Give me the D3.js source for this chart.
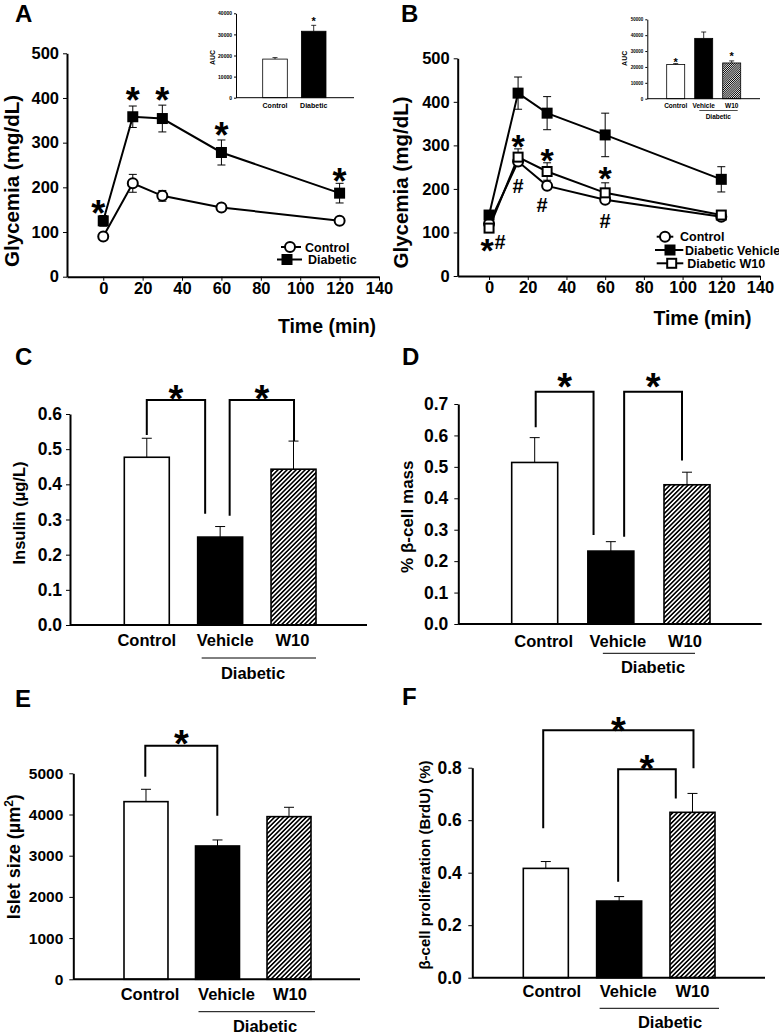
<!DOCTYPE html>
<html><head><meta charset="utf-8">
<script src="https://cdn.jsdelivr.net/npm/d3@7"></script>
<style>
body{margin:0;background:#fff}
svg{display:block}
text{font-family:"Liberation Sans",Arial,sans-serif;font-weight:bold;fill:#000}
</style>
</head><body>
<svg id="fig" width="779" height="1033"></svg>
<script>
// ---------------- DATA ----------------
const times = [0, 15, 30, 60, 120];
const timeTicks = [0, 20, 40, 60, 80, 100, 120, 140];
const glyTicks = [0, 100, 200, 300, 400, 500];

// Panel A (OGTT)
const aControl = [90, 209, 181, 155, 125];
const aControlErr = [5, 20, 12, 5, 6];
const aDiabetic = [125, 358, 354, 278, 187];
const aDiabeticErr = [12, 24, 30, 28, 22];
const aStarY = [160, 414, 414, 335, 232];
// Inset A
const aucACats = ["Control", "Diabetic"];
const aucA = [18300, 31500];
const aucAErr = [700, 2800];
const aucATicks = [0, 10000, 20000, 30000, 40000];

// Panel B
const bControl = [120, 263, 207, 175, 136];
const bControlErr = [5, 10, 8, 8, 5];
const bVehicle = [140, 420, 374, 324, 222];
const bVehicleErr = [10, 37, 38, 50, 29];
const bW10 = [110, 273, 240, 191, 140];
const bW10Err = [8, 19, 20, 23, 6];
// Inset B
const aucBCats = ["Control", "Vehicle", "W10"];
const aucB = [21500, 38000, 22500];
const aucBErr = [600, 4000, 1300];
const aucBTicks = [0, 10000, 20000, 30000, 40000, 50000];

// Bar panels
const barCats = ["Control", "Vehicle", "W10"];
const insulin = [0.477, 0.250, 0.443];
const insulinErr = [0.054, 0.030, 0.080];
const insulinTicks = [0, 0.1, 0.2, 0.3, 0.4, 0.5, 0.6];
const betaMass = [0.514, 0.232, 0.443];
const betaMassErr = [0.079, 0.030, 0.040];
const betaMassTicks = [0, 0.1, 0.2, 0.3, 0.4, 0.5, 0.6, 0.7];
const isletSize = [4312, 3236, 3948];
const isletSizeErr = [300, 146, 227];
const isletTicks = [0, 1000, 2000, 3000, 4000, 5000];
const prolif = [0.4165, 0.292, 0.630];
const prolifErr = [0.026, 0.017, 0.072];
const prolifTicks = [0, 0.2, 0.4, 0.6, 0.8];

// ---------------- DRAWING ----------------
const svg = d3.select("#fig");
svg.append("rect").attr("width", 779).attr("height", 1033).attr("fill", "#fff");
const defs = svg.append("defs");
function hatch(id, w, b) {
  const p = defs.append("pattern").attr("id", id).attr("patternUnits", "userSpaceOnUse")
    .attr("width", w).attr("height", w).attr("patternTransform", "rotate(45)");
  p.append("rect").attr("width", w).attr("height", w).attr("fill", "#fff");
  p.append("rect").attr("width", b).attr("height", w).attr("fill", "#000");
}
hatch("hatch", 3.2, 1.6);
hatch("hatchFine", 1.5, 0.8);
const barFills = ["#fff", "#000", "url(#hatch)"];

function txt(g, x, y, s, fs, anchor) {
  return g.append("text").attr("x", x).attr("y", y).attr("text-anchor", anchor || "middle")
    .style("font-size", fs + "px").text(s);
}
function star(g, x, yc, fs) { // yc = visual centre of asterisk
  return txt(g, x, yc + 0.58 * fs, "*", fs);
}
function hash(g, x, yc) {
  return txt(g, x, yc + 7, "#", 20);
}
function vlabel(g, x, yc, s, fs) {
  return g.append("text").attr("transform", `translate(${x},${yc}) rotate(-90)`)
    .attr("text-anchor", "middle").style("font-size", fs + "px").text(s);
}
function styleAxis(a, fs, domW) {
  a.select(".domain").attr("stroke", "#000").attr("stroke-width", domW);
  a.selectAll(".tick line").attr("stroke", "#000").attr("stroke-width", 1);
  a.selectAll(".tick text").attr("fill", "#000").style("font-size", fs + "px");
}

// panel letters
[["A", 15, 22], ["B", 401, 22], ["C", 15, 365], ["D", 402, 365], ["E", 15, 707], ["F", 402, 705]]
  .forEach(([l, x, y]) => txt(svg, x, y, l, 24, "start"));

// ---------- line panels ----------
function linePanel(o) {
  const g = svg.append("g");
  const x = d3.scaleLinear().domain([o.xMin, 140]).range([o.ax, o.axEnd]);
  const y = d3.scaleLinear().domain([0, 500]).range([o.y0, o.y500]);
  g.append("g").attr("transform", `translate(${o.ax},0)`)
    .call(d3.axisLeft(y).tickValues(glyTicks).tickSize(4).tickSizeOuter(0).tickPadding(4))
    .call(a => styleAxis(a, 16.5, 2));
  g.append("g").attr("transform", `translate(0,${o.y0})`)
    .call(d3.axisBottom(x).tickValues(timeTicks).tickSize(4).tickSizeOuter(0).tickPadding(1.5))
    .call(a => styleAxis(a, 16.5, 2));
  vlabel(g, o.ylx, o.yly, "Glycemia (mg/dL)", 20.5);
  txt(g, o.xlx, o.xly, "Time (min)", 19.5);
  const line = d3.line().x((d, i) => x(times[i])).y(d => y(d));
  o.series.forEach(s => {
    g.append("path").datum(s.v).attr("d", line).attr("fill", "none").attr("stroke", "#000").attr("stroke-width", 2);
  });
  o.series.forEach(s => {
    s.v.forEach((v, i) => {
      const cx = x(times[i]), e = s.e[i];
      g.append("path").attr("d", `M${cx},${y(v - e)}V${y(v + e)}M${cx - 4},${y(v + e)}H${cx + 4}M${cx - 4},${y(v - e)}H${cx + 4}`)
        .attr("stroke", "#000").attr("stroke-width", 1).attr("fill", "none");
    });
  });
  o.series.forEach(s => {
    s.v.forEach((v, i) => marker(g, s.m, x(times[i]), y(v)));
  });
  return { g, x, y };
}
function marker(g, m, cx, cy) {
  if (m === "circle") g.append("circle").attr("cx", cx).attr("cy", cy).attr("r", 5).attr("fill", "#fff").attr("stroke", "#000").attr("stroke-width", 2);
  else if (m === "square") g.append("rect").attr("x", cx - 5.5).attr("y", cy - 5.5).attr("width", 11).attr("height", 11).attr("fill", "#000");
  else g.append("rect").attr("x", cx - 4.5).attr("y", cy - 4.5).attr("width", 9).attr("height", 9).attr("fill", "#fff").attr("stroke", "#000").attr("stroke-width", 2);
}
function legend(g, items) {
  items.forEach(it => {
    g.append("line").attr("x1", it.l0).attr("x2", it.l1).attr("y1", it.y).attr("y2", it.y).attr("stroke", "#000").attr("stroke-width", 2);
    marker(g, it.m, it.mx, it.y);
    txt(g, it.tx, it.y + 4.5, it.t, 12.5, "start");
  });
}

// Panel A
const A = linePanel({
  xMin: -18.4, ax: 67, axEnd: 379, y0: 276.7, y500: 53.3,
  ylx: 19, yly: 181, xlx: 327, xly: 333,
  series: [{ v: aControl, e: aControlErr, m: "circle" }, { v: aDiabetic, e: aDiabeticErr, m: "square" }]
});
aStarY.forEach((v, i) => star(A.g, A.x(times[i]) + (i === 0 ? -5 : 0), A.y(v), 36));
legend(A.g, [
  { l0: 281, l1: 301, mx: 290, y: 247, m: "circle", tx: 305, t: "Control" },
  { l0: 277, l1: 302, mx: 287, y: 259.5, m: "square", tx: 308, t: "Diabetic" }
]);

// Panel B
const B = linePanel({
  xMin: -16.2, ax: 457.7, axEnd: 760, y0: 276, y500: 58.3,
  ylx: 408, yly: 182.5, xlx: 702.5, xly: 325,
  series: [{ v: bControl, e: bControlErr, m: "circle" }, { v: bVehicle, e: bVehicleErr, m: "square" }, { v: bW10, e: bW10Err, m: "open" }]
});
const bStar = [[15, 316], [30, 284], [60, 242]];
bStar.forEach(([t, v]) => star(B.g, B.x(t), B.y(v), 34));
const bHash = [[15, 207], [30, 163], [60, 127]];
bHash.forEach(([t, v], i) => hash(B.g, B.x(t) + (i === 1 ? -5 : 0), B.y(v)));
star(B.g, B.x(0) - 2, B.y(77), 34);
hash(B.g, B.x(0) + 11, B.y(77));
legend(B.g, [
  { l0: 656.7, l1: 673.3, mx: 665, y: 236.7, m: "circle", tx: 680, t: "Control" },
  { l0: 655, l1: 683.3, mx: 670, y: 250, m: "square", tx: 685, t: "Diabetic Vehicle" },
  { l0: 656.7, l1: 683.3, mx: 671.7, y: 263.3, m: "open", tx: 687.3, t: "Diabetic W10" }
]);

// ---------- insets ----------
function inset(o) {
  const g = svg.append("g");
  const y = d3.scaleLinear().domain([0, o.yMax]).range([o.y0, o.yTop]);
  const x = d3.scaleBand().domain(o.cats).range([o.b0, o.b1]).paddingInner(o.pad);
  g.selectAll("rect.bar").data(o.vals).join("rect")
    .attr("x", (d, i) => x(o.cats[i])).attr("y", d => y(d))
    .attr("width", x.bandwidth()).attr("height", d => y(0) - y(d))
    .attr("fill", (d, i) => o.fills[i]).attr("stroke", "#000").attr("stroke-width", 0.8);
  o.vals.forEach((v, i) => {
    const cx = x(o.cats[i]) + x.bandwidth() / 2, e = o.errs[i];
    g.append("path").attr("d", `M${cx},${y(v)}V${y(v + e)}M${cx - 2.5},${y(v + e)}H${cx + 2.5}`)
      .attr("stroke", "#000").attr("stroke-width", 0.8).attr("fill", "none");
  });
  g.append("g").attr("transform", `translate(${o.ax},0)`)
    .call(d3.axisLeft(y).tickValues(o.ticks).tickFormat(d3.format("d")).tickSize(2).tickSizeOuter(0).tickPadding(2))
    .call(a => styleAxis(a, o.tfs, 1));
  g.append("line").attr("x1", o.ax).attr("x2", o.axEnd).attr("y1", y(0)).attr("y2", y(0)).attr("stroke", "#000").attr("stroke-width", 1);
  o.cats.forEach((c, i) => txt(g, x(c) + x.bandwidth() / 2, o.ly, c, o.lfs));
  vlabel(g, o.aucX, o.aucY, "AUC", 7);
  o.stars.forEach(([c, v]) => star(g, x(c) + x.bandwidth() / 2, y(v), 11));
  return { g, x, y };
}
inset({
  cats: aucACats, vals: aucA, errs: aucAErr, fills: ["#fff", "#000"], ticks: aucATicks,
  yMax: 40000, y0: 97.7, yTop: 13.3, ax: 236, axEnd: 354, b0: 262.7, b1: 326, pad: 0.364,
  tfs: 5, lfs: 7, ly: 108.3, aucX: 215, aucY: 57.5, stars: [["Diabetic", 37300]]
});
const IB = inset({
  cats: aucBCats, vals: aucB, errs: aucBErr, fills: ["#fff", "#000", "url(#hatchFine)"], ticks: aucBTicks,
  yMax: 50000, y0: 98.7, yTop: 19.3, ax: 647.3, axEnd: 760, b0: 666.7, b1: 740.7, pad: 0.357,
  tfs: 4.5, lfs: 6.5, ly: 107.5, aucX: 627, aucY: 58.3, stars: [["Control", 24800], ["W10", 28600]]
});
IB.g.append("line").attr("x1", 699.3).attr("x2", 737.7).attr("y1", 110.5).attr("y2", 110.5).attr("stroke", "#000").attr("stroke-width", 0.7);
txt(IB.g, 718.3, 118.5, "Diabetic", 6.5);

// ---------- bar panels ----------
function barPanel(o) {
  const g = svg.append("g");
  const y = d3.scaleLinear().domain([0, o.yMax]).range([o.y0, o.yTop]);
  const x = d3.scaleBand().domain(barCats).range([o.b0, o.b1]).paddingInner(o.pad);
  const bw = x.bandwidth();
  g.selectAll("rect.bar").data(o.vals).join("rect")
    .attr("x", (d, i) => x(barCats[i])).attr("y", d => y(d))
    .attr("width", bw).attr("height", d => y(0) - y(d))
    .attr("fill", (d, i) => barFills[i]).attr("stroke", "#000").attr("stroke-width", 1.6);
  o.vals.forEach((v, i) => {
    const cx = x(barCats[i]) + bw / 2, e = o.errs[i];
    g.append("path").attr("d", `M${cx},${y(v)}V${y(v + e)}M${cx - 5},${y(v + e)}H${cx + 5}`)
      .attr("stroke", "#000").attr("stroke-width", 1).attr("fill", "none");
  });
  g.append("g").attr("transform", `translate(${o.ax},0)`)
    .call(d3.axisLeft(y).tickValues(o.ticks).tickFormat(o.fmt).tickSize(4).tickSizeOuter(0).tickPadding(o.tp))
    .call(a => styleAxis(a, o.tfs, 2));
  g.append("line").attr("x1", o.ax).attr("x2", o.axEnd).attr("y1", y(0)).attr("y2", y(0)).attr("stroke", "#000").attr("stroke-width", 2);
  barCats.forEach((c, i) => txt(g, x(c) + bw / 2 + o.ldx[i], o.ly, c, 16.5));
  g.append("line").attr("x1", x("Vehicle") + o.ul[0]).attr("x2", x("W10") + bw + o.ul[1])
    .attr("y1", o.uly).attr("y2", o.uly).attr("stroke", "#000").attr("stroke-width", 1);
  txt(g, o.dx, o.dy, "Diabetic", 16.5);
  const vl = vlabel(g, o.ylx, o.yly, "", o.yfs);
  o.ylab(vl);
  o.brackets.forEach(b => {
    const xl = x(b.l[0]) + bw / 2 + b.l[1], xr = x(b.r[0]) + bw / 2 + b.r[1];
    g.append("path").attr("d", `M${xl},${y(b.l[2])}V${y(b.top)}H${xr}V${y(b.r[2])}`)
      .attr("fill", "none").attr("stroke", "#000").attr("stroke-width", 2);
    star(g, (xl + xr) / 2, y(b.star), 38);
  });
  return { g, x, y };
}
const f1 = d3.format(".1f");
// C
barPanel({
  vals: insulin, errs: insulinErr, ticks: insulinTicks, fmt: f1, yMax: 0.6, y0: 625, yTop: 414,
  ax: 70, axEnd: 367, b0: 124.3, b1: 316, pad: 0.387, tp: 4, tfs: 17.5,
  ldx: [0, 5, -1], ly: 646, ul: [4, 0], uly: 658, dx: 253, dy: 679,
  ylx: 25, yly: 513, yfs: 16.5, ylab: t => t.text("Insulin (µg/L)"),
  brackets: [
    { l: ["Control", 0, 0.54], r: ["Vehicle", -15, 0.316], top: 0.64, star: 0.668 },
    { l: ["Vehicle", 9.5, 0.311], r: ["W10", 0.5, 0.523], top: 0.64, star: 0.668 }
  ]
});
// D
barPanel({
  vals: betaMass, errs: betaMassErr, ticks: betaMassTicks, fmt: f1, yMax: 0.7, y0: 624, yTop: 404,
  ax: 458.3, axEnd: 761.7, b0: 511.7, b1: 710, pad: 0.396, tp: 6, tfs: 17.5,
  ldx: [9, 7, -2], ly: 646.7, ul: [15, -15], uly: 653.3, dx: 653, dy: 673,
  ylx: 413, yly: 516.7, yfs: 17, ylab: t => t.text("% β-cell mass"),
  brackets: [
    { l: ["Control", 1, 0.626], r: ["Vehicle", -17.3, 0.283], top: 0.739, star: 0.784 },
    { l: ["Vehicle", 13.3, 0.278], r: ["W10", -5, 0.52], top: 0.739, star: 0.784 }
  ]
});
// E
barPanel({
  vals: isletSize, errs: isletSizeErr, ticks: isletTicks, fmt: d3.format("d"), yMax: 5000, y0: 979.3, yTop: 773.3,
  ax: 73.3, axEnd: 360, b0: 124, b1: 311, pad: 0.385, tp: 6, tfs: 15.5,
  ldx: [4, 9, 1], ly: 1000, ul: [3, 4], uly: 1011.7, dx: 265, dy: 1031.5,
  ylx: 20, yly: 856.7, yfs: 18, ylab: t => {
    t.append("tspan").text("Islet size (µm");
    t.append("tspan").attr("dy", -7).style("font-size", "12px").text("2");
    t.append("tspan").attr("dy", 7).text(")");
  },
  brackets: [
    { l: ["Control", -0.7, 4918], r: ["Vehicle", -0.2, 3971], top: 5670, star: 5930 }
  ]
});
// F
barPanel({
  vals: prolif, errs: prolifErr, ticks: prolifTicks, fmt: f1, yMax: 0.8, y0: 977.7, yTop: 767.7,
  ax: 472.3, axEnd: 765, b0: 523.3, b1: 715, pad: 0.386, tp: 6.5, tfs: 17.5,
  ldx: [6, 9, 0], ly: 997.3, ul: [3, 4], uly: 1008.3, dx: 670, dy: 1028,
  ylx: 430, yly: 865, yfs: 15, ylab: t => t.text("β-cell proliferation (BrdU) (%)"),
  brackets: [
    { l: ["Control", -2.6, 0.569], r: ["W10", 1, 0.798], top: 0.943, star: 0.975 },
    { l: ["Vehicle", -1, 0.366], r: ["W10", -16.7, 0.683], top: 0.794, star: 0.829 }
  ]
});
</script>
</body></html>
